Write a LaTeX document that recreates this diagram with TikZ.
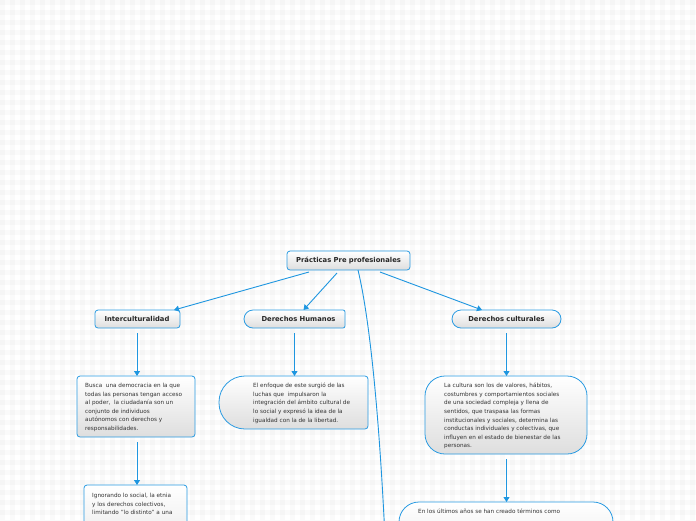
\documentclass[tikz,border=0pt]{standalone}
\usepackage{fontspec}
\setmainfont{DejaVu Sans}
\usetikzlibrary{arrows.meta,calc}
\definecolor{mmblue}{HTML}{2A9BE2}
\definecolor{mmline}{HTML}{1E96E0}
\definecolor{mmtext}{HTML}{333333}
\newcommand\mmshape[6]{%
 \path[boxfill] (#1,#2+#5) arc[start angle=180,end angle=90,radius=#5pt] -- (#3-#6,#2)
   arc[start angle=90,end angle=0,radius=#6pt] -- (#3,#4-#6)
   arc[start angle=0,end angle=-90,radius=#6pt] -- (#1+#5,#4)
   arc[start angle=-90,end angle=-180,radius=#5pt] -- cycle;}
\tikzset{
  boxfill/.style={draw=mmblue,line width=0.8pt,top color=white,bottom color=black!13},
  hold/.style={inner sep=0pt,outer sep=0pt,draw=none},
  title/.style={hold,font=\bfseries\fontsize{6.8}{8}\selectfont,text=black!85},
  body/.style={inner sep=0pt,anchor=north west,align=left,text=mmtext,font=\fontsize{5.7}{8.6}\selectfont},
  conn/.style={draw=mmline,line width=0.9pt,-{Triangle[width=6pt,length=5pt]}},
  plain/.style={draw=mmline,line width=0.9pt}
}
\begin{document}
\begin{tikzpicture}[x=1pt,y=-1pt]
\useasboundingbox (0,0) rectangle (696,520);
\clip (0,0) rectangle (696,520);
\fill[white] (0,0) rectangle (696,520);
\foreach \i in {0,10,...,690} \fill[black,opacity=0.018] (\i,0) rectangle ++(5,520);
\foreach \j in {0,10,...,520} \fill[black,opacity=0.018] (0,\j) rectangle ++(696,5);

% shapes
\mmshape{287}{251}{410}{270}{3}{3}
\mmshape{95}{310}{180}{328}{3}{3}
\mmshape{244}{310}{345}{328}{9}{2}
\mmshape{452}{310}{561}{328}{9}{9}
\mmshape{77}{376}{195}{437}{3}{3}
\mmshape{219}{376}{368}{429}{26}{3}
\mmshape{425}{376}{587}{454}{20}{20}
\mmshape{84}{485}{187}{580}{3}{3}
\mmshape{399}{502}{613}{590}{20}{20}

% nodes
\node[title,minimum width=123pt,minimum height=19pt] (root) at (348.5,260.5) {Prácticas Pre profesionales};
\node[title,minimum width=85pt,minimum height=18pt] (inter) at (137,319) {Interculturalidad};
\node[hold,minimum width=101pt,minimum height=18pt] (dh) at (294.5,319) {};
\node[title] (dht) at (298.5,319) {Derechos Humanos};
\node[title,minimum width=109pt,minimum height=18pt] (dc) at (506.5,319) {Derechos culturales};
\node[hold,minimum width=118pt,minimum height=61pt] (box1) at (136,406.5) {};
\node[hold,minimum width=149pt,minimum height=53pt] (box2) at (293.5,402.5) {};
\node[hold,minimum width=162pt,minimum height=78pt] (box3) at (506,415) {};
\node[hold,minimum width=103pt,minimum height=95pt] (box4) at (135.5,532.5) {};
\node[hold,minimum width=214pt,minimum height=88pt] (box5) at (506,546) {};

\node[body] (t1) at (85,383) {Busca\ \ una democracia en la que\\todas las personas tengan acceso\\al poder,\ \ la ciudadanía son un\\conjunto de individuos\\autónomos con derechos y\\responsabilidades.};
\node[body] (t2) at (253,383) {El enfoque de este surgió de las\\luchas que\ \ impulsaron la\\integración del ámbito cultural de\\lo social y expresó la idea de la\\igualdad con la de la libertad.};
\node[body] (t3) at (444,383) {La cultura son los de valores, hábitos,\\costumbres y comportamientos sociales\\de una sociedad compleja y llena de\\sentidos, que traspasa las formas\\institucionales y sociales, determina las\\conductas individuales y colectivas, que\\influyen en el estado de bienestar de las\\personas.};
\node[body] (t4) at (92,493) {Ignorando lo social, la etnia\\y los derechos colectivos,\\limitando "lo distinto" a una};
\node[body] (t5) at (418,509) {En los últimos años se han creado términos como};

% connectors
\draw[conn] ([xshift=-39.5pt,yshift=-2pt]root.south) -- ([xshift=37pt]inter.north);
\draw[conn] ([xshift=-11.5pt,yshift=-3pt]root.south) -- ([xshift=9pt]dh.north);
\draw[conn] ([xshift=31.5pt,yshift=-2pt]root.south) -- ([xshift=-24.5pt]dc.north);
\coordinate (off) at (386,560);
\draw[plain] ([xshift=9.5pt]root.south) .. controls (370,320) and (380,420) .. (off);
\draw[conn] ([yshift=-5pt]inter.south) -- (inter.south |- box1.north);
\draw[conn] ([yshift=-5pt]box1.south -| inter.south) -- (inter.south |- box4.north);
\draw[conn] ([yshift=-5pt]dh.south) -- (dh.south |- box2.north);
\draw[conn] ([yshift=-5pt]dc.south) -- (dc.south |- box3.north);
\draw[conn] ([yshift=-5pt]box3.south -| dc.south) -- (dc.south |- box5.north);
\end{tikzpicture}
\end{document}
